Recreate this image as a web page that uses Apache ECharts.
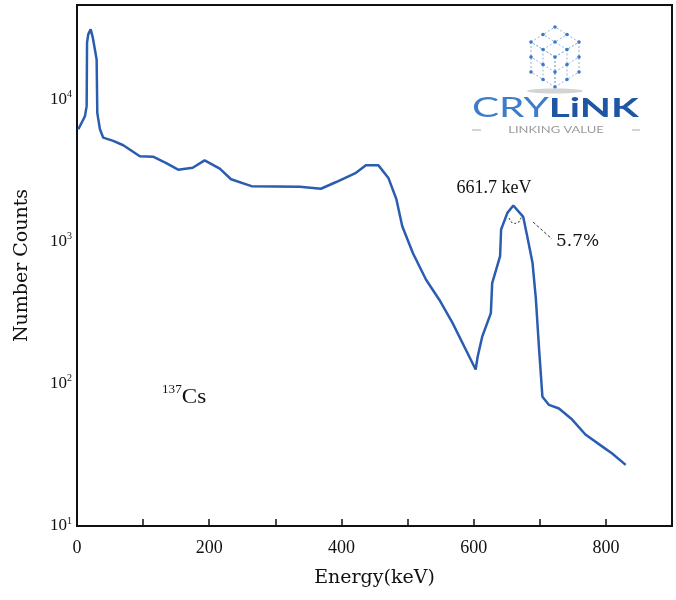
<!doctype html>
<html>
<head>
<meta charset="utf-8">
<title>137Cs spectrum</title>
<style>
html, body { margin: 0; padding: 0; background: #fff; }
#main { width: 676px; height: 600px; }
</style>
</head>
<body>
<div id="main"></div>
<script src="https://cdn.jsdelivr.net/npm/echarts@6/dist/echarts.min.js"></script>
<script>

var energy = [2, 12, 14.6, 15.2, 17, 20.7, 24, 27, 29.7, 30.7, 34.7, 39.7, 54.8, 70, 95, 115, 135, 153,
    175, 193, 216, 233, 264, 337, 369, 392, 422, 437, 456, 471, 483, 492, 508, 528, 548, 568, 588,
    603, 606, 613, 626, 628, 640, 641.5, 651, 660, 675, 681, 689, 694, 699, 704, 714, 729, 749, 769,
    799, 809, 830];
var counts = [6150, 7600, 8950, 25000, 28600, 31000, 27000, 22500, 19000, 8000, 6150, 5370, 5100, 4750,
    3980, 3950, 3560, 3200, 3300, 3720, 3250, 2740, 2450, 2430, 2350, 2620, 3040, 3430, 3430, 2800,
    1990, 1280, 830, 538, 390, 268, 174, 126, 155, 215, 314, 510, 790, 1215, 1590, 1790, 1490, 1090,
    710, 400, 174, 81, 71, 67, 56, 44, 35, 32.5, 26.9];
var xTicks = [0, 200, 400, 600, 800];
var yTicks = [10, 100, 1000, 10000];

var serif = '"Liberation Serif", "DejaVu Serif", serif';
var wide = '"DejaVu Serif", serif';
var lineColor = '#2a5db0';

var chart = echarts.init(document.getElementById('main'));

// logo lattice (decoration)
function logoLattice() {
    var c = [555, 57], e1 = [-24, -15], e2 = [24, -15], e3 = [0, 30];
    var faces = [[e1, e2], [e1, e3], [e2, e3]];
    var els = [], dots = {};
    var steps = [0, 0.5, 1];
    function pt(a, b, s, t) { return [c[0] + a[0] * s + b[0] * t, c[1] + a[1] * s + b[1] * t]; }
    faces.forEach(function (f) {
        steps.forEach(function (s) {
            var p1 = pt(f[0], f[1], s, 0), p2 = pt(f[0], f[1], s, 1);
            var q1 = pt(f[0], f[1], 0, s), q2 = pt(f[0], f[1], 1, s);
            [[p1, p2], [q1, q2]].forEach(function (l) {
                els.push({
                    type: 'line', silent: true,
                    shape: { x1: l[0][0], y1: l[0][1], x2: l[1][0], y2: l[1][1] },
                    style: { stroke: '#8fb4e3', lineWidth: 1, lineDash: [2, 2] }
                });
            });
            steps.forEach(function (t) {
                var p = pt(f[0], f[1], s, t);
                dots[p[0].toFixed(1) + ',' + p[1].toFixed(1)] = p;
            });
        });
    });
    Object.keys(dots).forEach(function (k) {
        var p = dots[k];
        els.push({
            type: 'circle', silent: true,
            shape: { cx: p[0], cy: p[1], r: 1.8 },
            style: { fill: '#3f78c4' }
        });
    });
    els.push({
        type: 'ellipse', silent: true,
        shape: { cx: 555, cy: 91, rx: 28, ry: 2.5 },
        style: { fill: '#d4d4d4' }
    });
    return els;
}

var graphics = logoLattice().concat([
    {
        type: 'text', left: 472, top: 96, silent: true,
        style: {
            text: '{a|CRY}{b|LiNK}',
            rich: {
                a: { fontFamily: 'Lato, sans-serif', fontSize: 26, fill: '#3d7cc9', fontWeight: 'normal' },
                b: { fontFamily: 'Lato, sans-serif', fontSize: 26, fill: '#1e55a5', fontWeight: 'bold' }
            }
        },
        scaleX: 1.56
    },
    {
        type: 'text', silent: true, x: 556, y: 130,
        style: {
            text: 'LINKING VALUE', fontFamily: 'Lato, sans-serif', fontSize: 10,
            fill: '#9a9a9a', align: 'center', verticalAlign: 'middle'
        },
        scaleX: 1.3
    },
    { type: 'line', silent: true, shape: { x1: 472, y1: 130, x2: 481, y2: 130 }, style: { stroke: '#aaa', lineWidth: 1 } },
    { type: 'line', silent: true, shape: { x1: 632, y1: 130, x2: 640, y2: 130 }, style: { stroke: '#aaa', lineWidth: 1 } },
    {
        type: 'text', silent: true, x: 494, y: 188,
        style: { text: '661.7 keV', font: '18px ' + serif, fill: '#111', align: 'center', verticalAlign: 'middle' }
    },
    {
        type: 'polyline', silent: true,
        shape: { points: [[509, 218], [511, 222], [515, 223.5], [519, 222], [521.5, 217]] },
        style: { stroke: '#333', lineWidth: 1, lineDash: [2, 2], fill: null }
    },
    {
        type: 'line', silent: true,
        shape: { x1: 533, y1: 222, x2: 552, y2: 239 },
        style: { stroke: '#333', lineWidth: 1, lineDash: [3, 2] }
    },
    {
        type: 'text', silent: true, x: 556, y: 242,
        style: { text: '5.7%', font: '17px ' + wide, fill: '#111', align: 'left', verticalAlign: 'middle' }
    },
    {
        type: 'text', silent: true, x: 162, y: 396,
        style: {
            text: '{s|137}{c|Cs}', verticalAlign: 'middle',
            rich: {
                s: { fontFamily: serif, fontSize: 12, fill: '#111', verticalAlign: 'top', lineHeight: 24 },
                c: { fontFamily: serif, fontSize: 21, fill: '#111', lineHeight: 24, verticalAlign: 'bottom' }
            }
        },
        scaleX: 1.1
    }
]);

chart.setOption({
    animation: false,
    grid: {
        left: 77, top: 5, right: 4, bottom: 74,
        show: true, borderColor: '#111', borderWidth: 2, backgroundColor: 'transparent'
    },
    xAxis: {
        type: 'value', min: 0, max: 900, interval: 100,
        name: 'Energy(keV)', nameLocation: 'middle', nameGap: 43,
        nameTextStyle: { fontFamily: wide, fontSize: 19, color: '#111' },
        axisLine: { show: true, lineStyle: { color: '#111', width: 2 } },
        axisTick: { show: true, inside: true, length: 7, lineStyle: { color: '#111', width: 1.5 } },
        axisLabel: {
            margin: 13, fontFamily: serif, fontSize: 18, color: '#111',
            formatter: function (v) { return xTicks.indexOf(v) >= 0 ? String(v) : ''; }
        },
        splitLine: { show: false }
    },
    yAxis: {
        type: 'log', logBase: 10, min: 10, max: 46000,
        name: 'Number Counts', nameLocation: 'middle', nameGap: 45, nameRotate: 90,
        nameTextStyle: { fontFamily: wide, fontSize: 19, color: '#111' },
        axisLine: { show: true, lineStyle: { color: '#111', width: 2 } },
        axisTick: { show: false },
        axisLabel: {
            margin: 5, showMaxLabel: false,
            formatter: function (v) {
                var k = yTicks.indexOf(Math.round(v));
                if (k < 0) return '';
                return '10{sup|' + (k + 1) + '}';
            },
            fontFamily: serif, fontSize: 17, color: '#111', lineHeight: 20,
            rich: {
                sup: { fontFamily: serif, fontSize: 10, color: '#111', verticalAlign: 'top', lineHeight: 20 }
            }
        },
        splitLine: { show: false }
    },
    series: [{
        type: 'line',
        data: energy.map(function (e, i) { return [e, counts[i]]; }),
        showSymbol: false,
        smooth: false,
        lineStyle: { color: lineColor, width: 2.5 },
        itemStyle: { color: lineColor }
    }],
    graphic: graphics
});
</script>
</body>
</html>
